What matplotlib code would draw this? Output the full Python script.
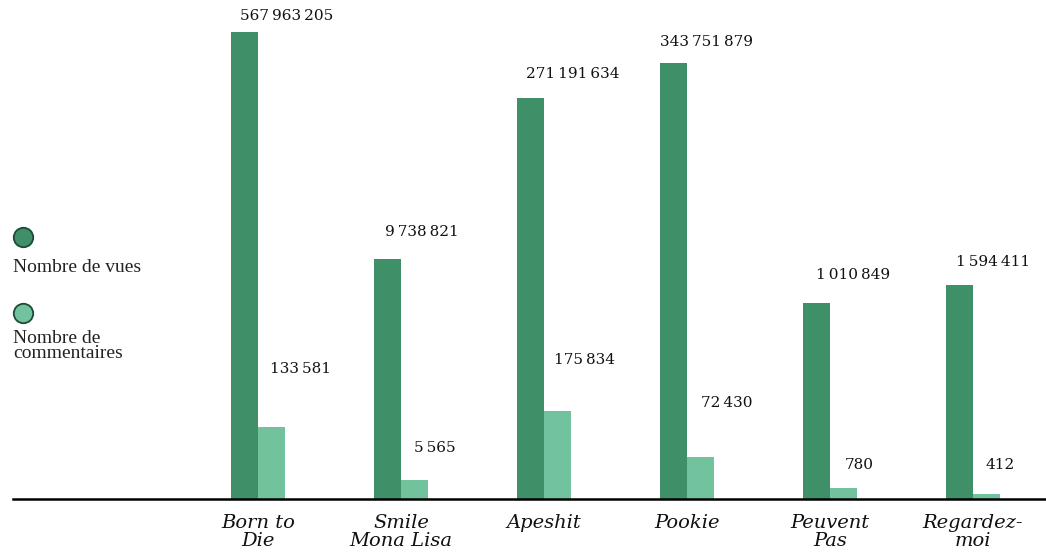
import numpy as np
import matplotlib
matplotlib.use("Agg")
import matplotlib.pyplot as plt
from matplotlib.lines import Line2D

# data
songs = ["Born to\nDie", "Smile\nMona Lisa", "Apeshit", "Pookie", "Peuvent\nPas", "Regardez-\nmoi"]
views = [567963205, 9738821, 271191634, 343751879, 1010849, 1594411]
comments = [133581, 5565, 175834, 72430, 780, 412]
# bar heights as drawn (hidden scale, % of tallest bar) - not proportional to the values
views_height = [100, 51.4, 85.9, 93.4, 42.0, 45.8]
comments_height = [15.4, 4.1, 18.8, 9.0, 2.4, 1.1]

# label offsets in pixels (centre of label vs group centre / bar top)
views_dx = [29, 21, 29, 19, 23, 20]
views_dy = [16, 27, 24, 21, 28, 23]
comm_dx = [43, 34, 40, 40, 29, 27]
comm_dy = [58, 32, 51, 54, 23, 29]

dark = "#3f8f69"
light = "#72c29d"
serif = ["DejaVu Serif", "DejaVu Sans"]


def fmt(v):
    return f"{v:,}".replace(",", "\u202f")


fig = plt.figure(figsize=(10.46, 5.56), dpi=100)
ax = fig.add_axes([0, 57 / 556, 1, 499 / 556])
x = np.arange(len(songs))
w = 0.19
ax.bar(x, views_height, width=-w, align="edge", color=dark)
ax.bar(x, comments_height, width=w, align="edge", color=light)
ax.set_xlim(-258 / 143, (1046 - 258) / 143)
ax.set_ylim(0, 100 * 499 / 467)

for i in range(len(songs)):
    ax.annotate(fmt(views[i]), (x[i], views_height[i]), xytext=(views_dx[i], views_dy[i]),
                textcoords="offset pixels", ha="center", va="center",
                family=serif, fontsize=11, color="#111111")
    ax.annotate(fmt(comments[i]), (x[i], comments_height[i]), xytext=(comm_dx[i], comm_dy[i]),
                textcoords="offset pixels", ha="center", va="center",
                family=serif, fontsize=11, color="#111111")

for s in ax.spines.values():
    s.set_visible(False)
ax.axhline(0, xmin=13 / 1046, xmax=1, color="black", lw=1.8, clip_on=False)
ax.set_yticks([])
ax.set_xticks(x, songs)
ax.tick_params(axis="x", length=0, pad=11)
for lab in ax.get_xticklabels():
    lab.set_family(serif)
    lab.set_fontstyle("italic")
    lab.set_fontsize(14)
    lab.set_linespacing(0.95)
    lab.set_color("#111111")

# legend
for yy, c in [(237, dark), (313, light)]:
    fig.add_artist(Line2D([23 / 1046], [1 - yy / 556], marker="o", markersize=14,
                          markerfacecolor=c, markeredgecolor="#1d4a35", markeredgewidth=1.3,
                          transform=fig.transFigure))
fig.text(13 / 1046, 1 - 268 / 556, "Nombre de vues", va="center", ha="left",
         family="Liberation Serif", fontsize=14, color="#222222")
fig.text(13 / 1046, 1 - 346 / 556, "Nombre de\ncommentaires", va="center", ha="left",
         family="Liberation Serif", fontsize=14, color="#222222", linespacing=0.8)

fig.savefig("out.png", dpi=100)
